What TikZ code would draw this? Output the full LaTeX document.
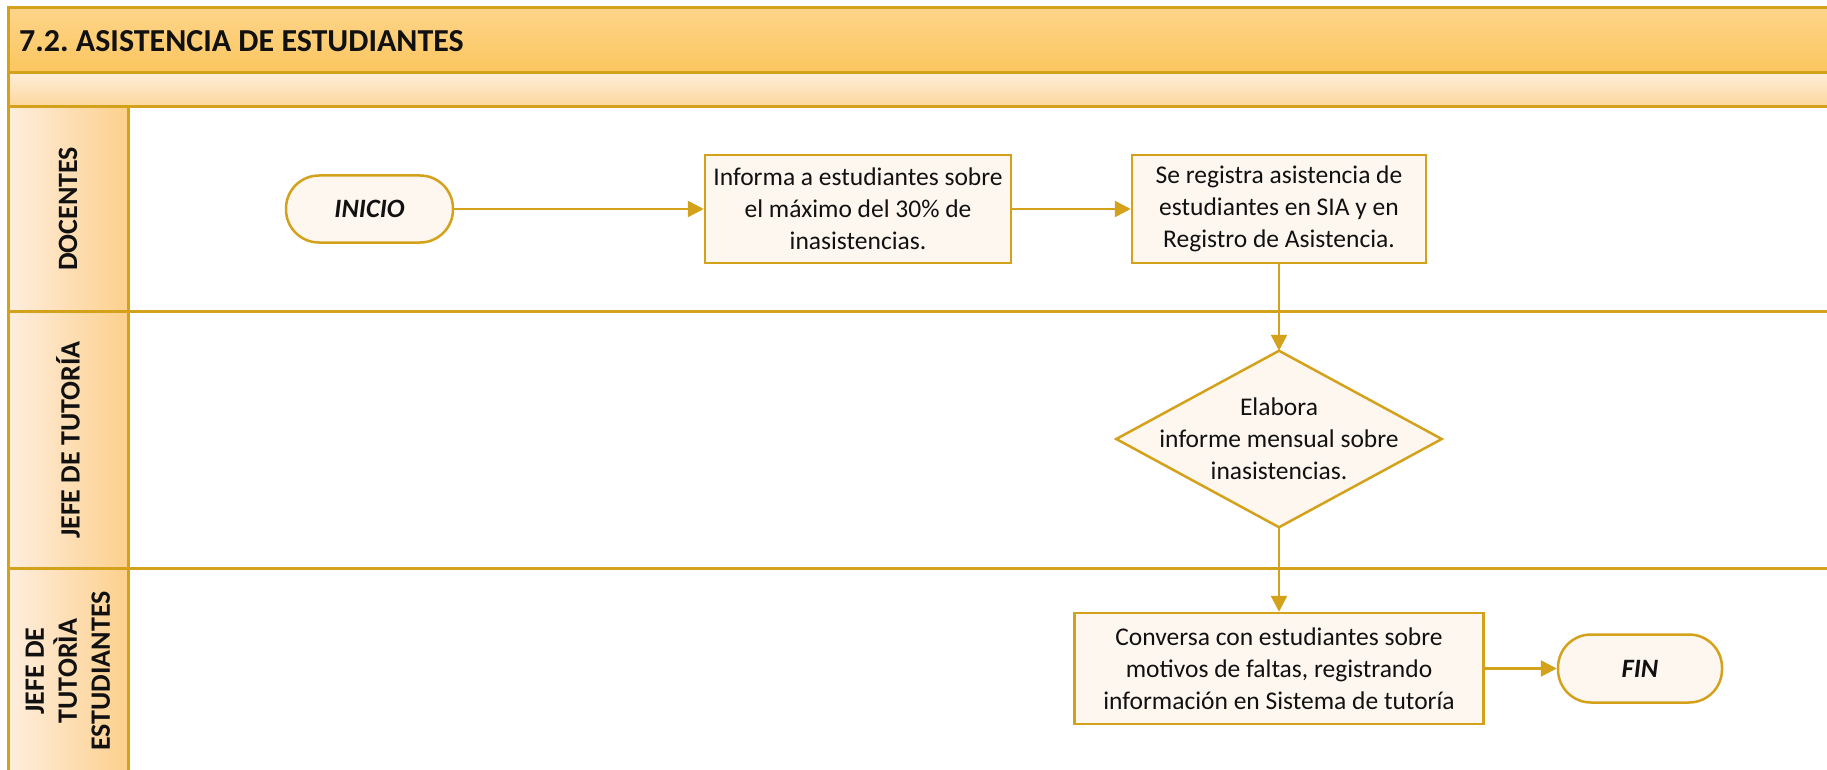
\documentclass[tikz,border=0pt]{standalone}
\usepackage{fontspec}
\setmainfont{Carlito}
\usetikzlibrary{arrows.meta,backgrounds}
\frenchspacing
\definecolor{gold}{HTML}{D4A11A}
\definecolor{nodefill}{HTML}{FEF7F0}
\definecolor{titletop}{HTML}{FDD48A}
\definecolor{titlebot}{HTML}{FCC65E}
\definecolor{subtop}{HTML}{FEEEDA}
\definecolor{subbot}{HTML}{FDD69A}
\definecolor{laneleft}{HTML}{FEEEDE}
\definecolor{laneright}{HTML}{FDD08C}
\definecolor{ink}{HTML}{111111}
\tikzset{
  frameline/.style={draw=gold, line width=3pt},
  boxnode/.style={draw=gold, line width=2.5pt, fill=nodefill, text=ink, align=center, inner sep=2pt,
    font=\fontsize{25.5}{32}\selectfont},
  termnode/.style={boxnode, rounded corners=33pt, font=\bfseries\itshape\fontsize{26.5}{32}\selectfont},
  lanelabel/.style={rotate=90, text=ink, align=center, font=\bfseries\fontsize{28}{33}\selectfont},
  flow/.style={draw=gold, line width=2.5pt, -{Triangle[length=16pt,width=16pt]}}
}
\begin{document}
\begin{tikzpicture}[x=1pt,y=-1pt]
\useasboundingbox (0,0) rectangle (1827,770);
% title bar
\shade[top color=titletop, bottom color=titlebot] (8,8) rectangle (1827,73);
\shade[top color=subtop, bottom color=subbot] (8,73) rectangle (1827,107);
% lane headers
\shade[left color=laneleft, right color=laneright] (8,107) rectangle (128,311);
\shade[left color=laneleft, right color=laneright] (8,311) rectangle (128,568);
\shade[left color=laneleft, right color=laneright] (8,568) rectangle (128,780);
% frame lines
\draw[frameline] (1827,8) -- (8,8) -- (8,780);
\draw[frameline] (8,73) -- (1827,73);
\draw[frameline] (8,107) -- (1827,107);
\draw[frameline] (8,311) -- (1827,311);
\draw[frameline] (8,568) -- (1827,568);
\draw[frameline] (128,107) -- (128,780);
% title
\node[anchor=west, inner sep=0, text=ink, font=\bfseries\fontsize{32}{38}\selectfont] (title) at (19,41) {7.2. ASISTENCIA DE ESTUDIANTES};
% lane labels
\node[lanelabel] (l1) at (68,209) {DOCENTES};
\node[lanelabel] (l2) at (68,440) {JEFE DE TUTORÍA};
\node[lanelabel] (l3) at (68,671) {JEFE DE\\TUTORÌA\\ESTUDIANTES};
% nodes
\node[termnode, minimum width=167pt, minimum height=67pt] (ini) at (369.5,209) {INICIO};
\node[boxnode, minimum width=306pt, minimum height=108pt] (b1) at (858,209) {Informa a estudiantes sobre\\el máximo del 30\% de\\inasistencias.};
\node[boxnode, minimum width=294pt, minimum height=108pt] (b2) at (1279,209) {Se registra asistencia de\\estudiantes en SIA y en\\Registro de Asistencia.};
\node[boxnode, draw=none, fill=none, minimum width=323pt, minimum height=174pt, inner sep=0pt] (dia) at (1279,439) {Elabora\\informe mensual sobre\\inasistencias.};
\begin{scope}[on background layer]
\draw[draw=gold, line width=2.5pt, fill=nodefill] (dia.north) -- (dia.east) -- (dia.south) -- (dia.west) -- cycle;
\end{scope}
\node[boxnode, minimum width=409pt, minimum height=111pt] (b3) at (1279,668.5) {Conversa con estudiantes sobre\\motivos de faltas, registrando\\información en Sistema de tutoría};
\node[termnode, minimum width=164pt, minimum height=68pt] (fin) at (1640,668.5) {FIN};
% connectors
\draw[flow] (ini) -- (b1);
\draw[flow] (b1) -- (b2);
\draw[flow] (b2) -- (dia.north);
\draw[flow] (dia.south) -- (b3);
\draw[flow] (b3) -- (fin);
\end{tikzpicture}
\end{document}
